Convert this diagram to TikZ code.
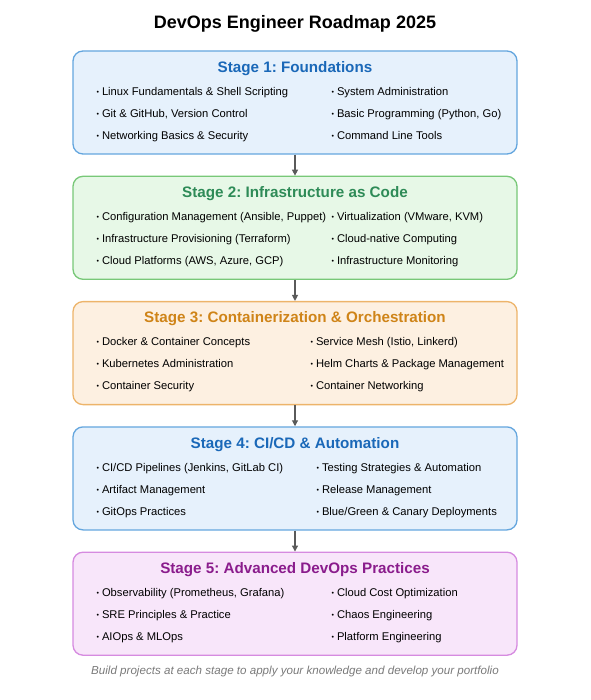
\documentclass[tikz,border=0pt]{standalone}
\usepackage{fontspec}
\setmainfont{Liberation Sans}
\usepackage{xcolor}
\usetikzlibrary{calc,positioning,arrows.meta}

\definecolor{blueFill}{HTML}{E6F1FC}
\definecolor{blueLine}{HTML}{64A6DE}
\definecolor{blueText}{HTML}{1A68B8}
\definecolor{greenFill}{HTML}{E7F8E7}
\definecolor{greenLine}{HTML}{78C878}
\definecolor{greenText}{HTML}{2E8B57}
\definecolor{orangeFill}{HTML}{FDF0E1}
\definecolor{orangeLine}{HTML}{EDB46A}
\definecolor{orangeText}{HTML}{CF8418}
\definecolor{purpleFill}{HTML}{F8E6FA}
\definecolor{purpleLine}{HTML}{D68BE0}
\definecolor{purpleText}{HTML}{8A1C8C}
\definecolor{arrowGray}{HTML}{5A5A5A}
\definecolor{noteGray}{HTML}{7A7A7A}

\newcommand{\itemdot}{\raisebox{1pt}{\fontsize{7}{8}\selectfont •}\hspace{3pt}}
\frenchspacing

\tikzset{
  stagebox/.style={draw, line width=1.3pt, rounded corners=10pt, minimum width=444pt, minimum height=103pt, inner sep=0pt},
  stagetitle/.style={anchor=base, inner sep=0pt, font=\fontsize{15.2}{17}\selectfont\bfseries},
  item/.style={anchor=base west, inner sep=0pt, font=\fontsize{11.2}{13}\selectfont},
  flow/.style={draw=arrowGray, line width=1.1pt, -{Triangle[length=6pt,width=6pt]}},
}

\begin{document}
\begin{tikzpicture}[x=1pt, y=-1pt]
    \useasboundingbox (0,0) rectangle (590,700);
    \node[anchor=base, inner sep=0pt, font=\fontsize{18}{21}\selectfont\bfseries] (title) at (295,29) {DevOps Engineer Roadmap 2025};

    % stage boxes
    \node[stagebox, draw=blueLine, fill=blueFill] (s1) at (295,102.5) {};
    \node[stagebox, draw=greenLine, fill=greenFill, below=21pt of s1] (s2) {};
    \node[stagebox, draw=orangeLine, fill=orangeFill, below=21pt of s2] (s3) {};
    \node[stagebox, draw=blueLine, fill=blueFill, below=21pt of s3] (s4) {};
    \node[stagebox, draw=purpleLine, fill=purpleFill, below=21pt of s4] (s5) {};

    \draw[flow] (s1) -- (s2);
    \draw[flow] (s2) -- (s3);
    \draw[flow] (s3) -- (s4);
    \draw[flow] (s4) -- (s5);

    % Stage 1
    \node[stagetitle, text=blueText] (t1) at ($(s1.north)+(0,22)$) {Stage 1: Foundations};
    \node[item] (s1a) at ($(s1.north west)+(24,45)$) {\itemdot Linux Fundamentals \& Shell Scripting};
    \node[item] (s1b) at ($(s1.north west)+(24,67)$) {\itemdot Git \& GitHub, Version Control};
    \node[item] (s1c) at ($(s1.north west)+(24,89)$) {\itemdot Networking Basics \& Security};
    \node[item] (s1d) at ($(s1.north west)+(259,45)$) {\itemdot System Administration};
    \node[item] (s1e) at ($(s1.north west)+(259,67)$) {\itemdot Basic Programming (Python, Go)};
    \node[item] (s1f) at ($(s1.north west)+(259,89)$) {\itemdot Command Line Tools};

    % Stage 2
    \node[stagetitle, text=greenText] (t2) at ($(s2.north)+(0,22)$) {Stage 2: Infrastructure as Code};
    \node[item] (s2a) at ($(s2.north west)+(24,45)$) {\itemdot Configuration Management (Ansible, Puppet)};
    \node[item] (s2b) at ($(s2.north west)+(24,67)$) {\itemdot Infrastructure Provisioning (Terraform)};
    \node[item] (s2c) at ($(s2.north west)+(24,89)$) {\itemdot Cloud Platforms (AWS, Azure, GCP)};
    \node[item] (s2d) at ($(s2.north west)+(259,45)$) {\itemdot Virtualization (VMware, KVM)};
    \node[item] (s2e) at ($(s2.north west)+(259,67)$) {\itemdot Cloud-native Computing};
    \node[item] (s2f) at ($(s2.north west)+(259,89)$) {\itemdot Infrastructure Monitoring};

    % Stage 3
    \node[stagetitle, text=orangeText] (t3) at ($(s3.north)+(0,22)$) {Stage 3: Containerization \& Orchestration};
    \node[item] (s3a) at ($(s3.north west)+(24,45)$) {\itemdot Docker \& Container Concepts};
    \node[item] (s3b) at ($(s3.north west)+(24,67)$) {\itemdot Kubernetes Administration};
    \node[item] (s3c) at ($(s3.north west)+(24,89)$) {\itemdot Container Security};
    \node[item] (s3d) at ($(s3.north west)+(238,45)$) {\itemdot Service Mesh (Istio, Linkerd)};
    \node[item] (s3e) at ($(s3.north west)+(238,67)$) {\itemdot Helm Charts \& Package Management};
    \node[item] (s3f) at ($(s3.north west)+(238,89)$) {\itemdot Container Networking};

    % Stage 4
    \node[stagetitle, text=blueText] (t4) at ($(s4.north)+(0,22)$) {Stage 4: CI/CD \& Automation};
    \node[item] (s4a) at ($(s4.north west)+(24,45)$) {\itemdot CI/CD Pipelines (Jenkins, GitLab CI)};
    \node[item] (s4b) at ($(s4.north west)+(24,67)$) {\itemdot Artifact Management};
    \node[item] (s4c) at ($(s4.north west)+(24,89)$) {\itemdot GitOps Practices};
    \node[item] (s4d) at ($(s4.north west)+(244,45)$) {\itemdot Testing Strategies \& Automation};
    \node[item] (s4e) at ($(s4.north west)+(244,67)$) {\itemdot Release Management};
    \node[item] (s4f) at ($(s4.north west)+(244,89)$) {\itemdot Blue/Green \& Canary Deployments};

    % Stage 5
    \node[stagetitle, text=purpleText] (t5) at ($(s5.north)+(0,22)$) {Stage 5: Advanced DevOps Practices};
    \node[item] (s5a) at ($(s5.north west)+(24,45)$) {\itemdot Observability (Prometheus, Grafana)};
    \node[item] (s5b) at ($(s5.north west)+(24,67)$) {\itemdot SRE Principles \& Practice};
    \node[item] (s5c) at ($(s5.north west)+(24,89)$) {\itemdot AIOps \& MLOps};
    \node[item] (s5d) at ($(s5.north west)+(259,45)$) {\itemdot Cloud Cost Optimization};
    \node[item] (s5e) at ($(s5.north west)+(259,67)$) {\itemdot Chaos Engineering};
    \node[item] (s5f) at ($(s5.north west)+(259,89)$) {\itemdot Platform Engineering};

    \node[anchor=base, inner sep=0pt, text=noteGray, font=\fontsize{11.6}{13}\selectfont\itshape] (note) at ($(s5.south)+(0,19)$) {Build projects at each stage to apply your knowledge and develop your portfolio};
\end{tikzpicture}
\end{document}
